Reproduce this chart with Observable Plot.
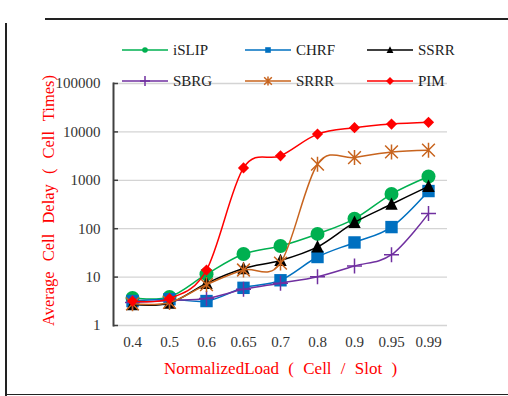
<!DOCTYPE html>
<html>
<head>
<meta charset="utf-8">
<script src="https://cdn.jsdelivr.net/npm/d3@7"></script>
<script src="https://cdn.jsdelivr.net/npm/@observablehq/plot@0.6"></script>
<style>
  body { margin: 0; background: #fff; }
  #wrap { position: relative; width: 508px; height: 396px; overflow: hidden; font-family: "Liberation Serif", "Times New Roman", serif; background: #fff; }
  #wrap > svg.plotsvg { position: absolute; left: 0; top: 0; }
  .fr { position: absolute; background: #222; }
  #legend { position: absolute; left: 0; top: 0; pointer-events: none; }
</style>
</head>
<body>
<div id="wrap">
  <div class="fr" style="left:45px;top:18px;width:463px;height:1.6px"></div>
  <div class="fr" style="left:5px;top:23px;width:1.6px;height:373px"></div>
  <div class="fr" style="left:5px;top:393.5px;width:503px;height:1.8px"></div>
</div>
<script>
// ---- data ----
const loads = ["0.4", "0.5", "0.6", "0.65", "0.7", "0.8", "0.9", "0.95", "0.99"];
const yTicks = [1, 10, 100, 1000, 10000, 100000];
const seriesNames = ["iSLIP", "CHRF", "SSRR", "SBRG", "SRRR", "PIM"];
const iSLIP = [3.7, 3.9, 11.5, 30, 44, 78, 160, 520, 1200];
const CHRF  = [3.2, 3.5, 3.2, 6.0, 8.6, 26, 52, 108, 600];
const SSRR  = [2.7, 2.9, 7.4, 15, 22, 42, 135, 320, 750];
const SBRG  = [3.0, 3.3, 3.6, 5.6, 7.5, 10.2, 17, 29, 205];
const SRRR  = [2.8, 3.0, 7.0, 14, 19.5, 2150, 2950, 3850, 4200];
const PIM   = [3.2, 3.6, 14, 1800, 3200, 9000, 12200, 14500, 15800];
const xTitle = "NormalizedLoad ( Cell / Slot )";
const yTitle = "Average Cell Delay ( Cell Times)";

const seriesValues = [iSLIP, CHRF, SSRR, SBRG, SRRR, PIM];
const rows = seriesNames.flatMap((name, k) =>
  loads.map((load, i) => ({series: name, load, delay: seriesValues[k][i]})));

// ---- styles ----
const half = s => Math.sqrt(s / Math.PI);
const symCircle = {draw(c, s) { const r = half(s); c.moveTo(r, 0); c.arc(0, 0, r, 0, 2 * Math.PI); }};
const symSquare = {draw(c, s) { const r = half(s); c.rect(-r, -r, 2 * r, 2 * r); }};
const symTriangle = {draw(c, s) { const r = half(s); c.moveTo(0, -1.1 * r); c.lineTo(r, 0.9 * r); c.lineTo(-r, 0.9 * r); c.closePath(); }};
const symPlus = {draw(c, s) { const r = half(s); c.moveTo(-r, 0); c.lineTo(r, 0); c.moveTo(0, -r); c.lineTo(0, r); }};
const symStar = {draw(c, s) { const r = half(s), d = r * 0.85; c.moveTo(-d, -d); c.lineTo(d, d); c.moveTo(-d, d); c.lineTo(d, -d); c.moveTo(0, -r); c.lineTo(0, r); }};
const symDiamond = {draw(c, s) { const r = half(s); c.moveTo(0, -r); c.lineTo(r, 0); c.lineTo(0, r); c.lineTo(-r, 0); c.closePath(); }};

const styles = [
  {color: "#00b050", symbol: symCircle,   r: 7,   lr: 2.8, filled: true},
  {color: "#0070c0", symbol: symSquare,   r: 6.2, lr: 2.8, filled: true},
  {color: "#000000", symbol: symTriangle, r: 6.2, lr: 3.4, filled: true},
  {color: "#7030a0", symbol: symPlus,     r: 7.5, lr: 5,   filled: false},
  {color: "#c8641e", symbol: symStar,     r: 7.5, lr: 4.5, filled: false},
  {color: "#ff0000", symbol: symDiamond,  r: 5.6, lr: 4,   filled: true}
];

const marks = [
  Plot.ruleY(yTicks, {y: d => d, stroke: "#d4d4d4", strokeWidth: 1.3}),
  Plot.axisY({ticks: yTicks, tickSize: 0, tickPadding: 13, tickFormat: d => String(d), label: null, fill: "#333"}),
  Plot.axisY({ticks: yTicks, tickSize: -5, tickFormat: () => "", label: null, stroke: "#404040", strokeWidth: 1.5}),
  Plot.axisX({tickSize: 0, tickPadding: 11, label: null, fill: "#333"}),
  Plot.frame({anchor: "left", stroke: "#404040", strokeWidth: 2}),
  Plot.text([xTitle], {text: d => d, frameAnchor: "bottom", dy: 48, fill: "#ff0000", fontSize: 17}),
  Plot.text([yTitle], {text: d => d, frameAnchor: "left", textAnchor: "middle", dx: -65, dy: -4, rotate: -90, fill: "#ff0000", fontSize: 16.5})
];
seriesNames.forEach((name, k) => {
  const st = styles[k];
  const data = rows.filter(d => d.series === name);
  marks.push(Plot.line(data, {x: "load", y: "delay", stroke: st.color, strokeWidth: 1.5, curve: "cardinal", tension: 0}));
  marks.push(Plot.dot(data, {x: "load", y: "delay", symbol: st.symbol, r: st.r,
    fill: st.filled ? st.color : "none", stroke: st.filled ? "none" : st.color, strokeWidth: 1.5}));
});

const chart = Plot.plot({
  width: 508, height: 396,
  marginLeft: 113, marginRight: 61, marginTop: 83, marginBottom: 71,
  style: {fontFamily: "'Liberation Serif', 'Times New Roman', serif", fontSize: "15px", background: "transparent", overflow: "visible"},
  x: {type: "point", domain: loads, padding: 0.5},
  y: {type: "log", domain: [1, 100000]},
  marks
});
chart.classList.add("plotsvg");
const wrap = document.getElementById("wrap");
wrap.insertBefore(chart, wrap.firstChild);

// widen word spacing of the axis titles as in the reference
const titles = chart.querySelectorAll('g[aria-label="text"] text');
if (titles[0]) titles[0].style.wordSpacing = "5px";
if (titles[1]) titles[1].style.wordSpacing = "6px";

// ---- legend (two rows of three) ----
const colX = [122, 245, 367], rowY = [50, 81];
const leg = d3.select(wrap).append("svg").attr("id", "legend").attr("width", 508).attr("height", 110);
seriesNames.forEach((name, k) => {
  const st = styles[k];
  const g = leg.append("g").attr("transform", `translate(${colX[k % 3]},${rowY[Math.floor(k / 3)]})`);
  g.append("line").attr("x1", 0).attr("x2", 46).attr("y1", 0).attr("y2", 0).attr("stroke", st.color).attr("stroke-width", 1.5);
  g.append("path").attr("transform", "translate(23,0)")
    .attr("d", d3.symbol().type(st.symbol).size(Math.PI * st.lr * st.lr)())
    .attr("fill", st.filled ? st.color : "none").attr("stroke", st.filled ? "none" : st.color).attr("stroke-width", 1.5);
  g.append("text").attr("x", 51).attr("y", 0).attr("dy", "0.35em").attr("fill", "#222")
    .style("font-family", "'Liberation Serif', 'Times New Roman', serif").style("font-size", "15px").text(name);
});
</script>
</body>
</html>
